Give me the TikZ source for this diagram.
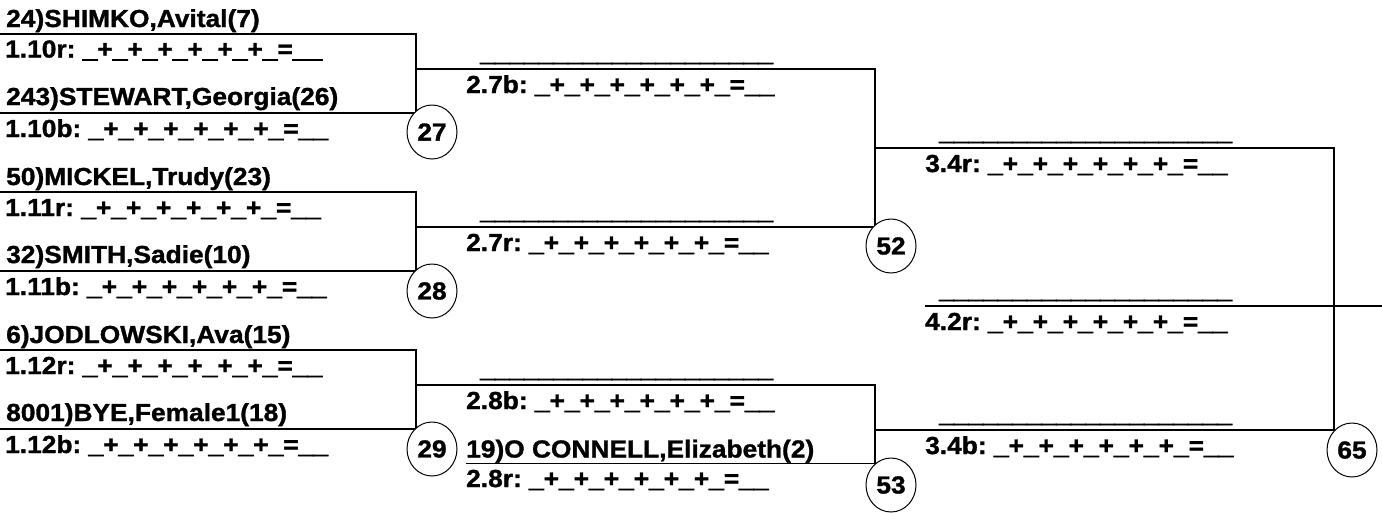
\documentclass[tikz,border=0pt]{standalone}
\usepackage{fontspec}
\setmainfont{Liberation Sans}[BoldFeatures={FakeBold=1.3,FakeStretch=1.07}]
\newfontfamily\usfont{Liberation Sans}[BoldFeatures={FakeBold=3.5,FakeStretch=1.07}]
\usetikzlibrary{shapes.geometric}
\newcommand\us{{\usfont\bfseries\_}}
\newcommand\scoreline{\us+\us+\us+\us+\us+\us+\us=\us\us}
\newcommand\blankname{\us\us\us\us\us\us\us\us\us\us\us\us\us\us\us\us\us\us\us\us}
\frenchspacing
\begin{document}
\begin{tikzpicture}[x=1pt,y=-1pt,
  txt/.style={anchor=base west, inner sep=0pt, font=\fontsize{24.6}{28}\selectfont\bfseries},
  seed/.style={draw, ellipse, fill=white, minimum width=50pt, minimum height=54pt, inner sep=0pt, line width=1pt, font=\fontsize{24.6}{28}\selectfont\bfseries},
  bline/.style={line width=1.3pt}]
\useasboundingbox (0,0) rectangle (1382,512);

% ---- round 1 texts
\node[txt] (n1)  at (6,27)  {24)SHIMKO,Avital(7)};
\node[txt] (s1)  at (5,57.5)  {1.10r: \scoreline};
\node[txt] (n2)  at (6,105) {243)STEWART,Georgia(26)};
\node[txt] (s2)  at (5,137) {1.10b: \scoreline};
\node[txt] (n3)  at (6,185) {50)MICKEL,Trudy(23)};
\node[txt] (s3)  at (5,216) {1.11r: \scoreline};
\node[txt] (n4)  at (6,263) {32)SMITH,Sadie(10)};
\node[txt] (s4)  at (5,295) {1.11b: \scoreline};
\node[txt] (n5)  at (6,343) {6)JODLOWSKI,Ava(15)};
\node[txt] (s5)  at (5,374) {1.12r: \scoreline};
\node[txt] (n6)  at (6,421) {8001)BYE,Female1(18)};
\node[txt] (s6)  at (5,453) {1.12b: \scoreline};

% ---- round 2 texts
\node[txt] (b1)  at (480,61)  {\blankname};
\node[txt] (s7)  at (466,93)  {2.7b: \scoreline};
\node[txt] (b2)  at (480,219) {\blankname};
\node[txt] (s8)  at (466,251) {2.7r: \scoreline};
\node[txt] (b3)  at (480,377) {\blankname};
\node[txt] (s9)  at (466,409) {2.8b: \scoreline};
\node[txt] (n7)  at (466,457.5) {19)O CONNELL,Elizabeth(2)};
\node[txt] (s10) at (466,487) {2.8r: \scoreline};

% ---- round 3 texts
\node[txt] (b4)  at (939,140) {\blankname};
\node[txt] (s11) at (925,172) {3.4r: \scoreline};
\node[txt] (b5)  at (939,298) {\blankname};
\node[txt] (s12) at (925,330) {4.2r: \scoreline};
\node[txt] (b6)  at (939,422) {\blankname};
\node[txt] (s13) at (925,454) {3.4b: \scoreline};

% ---- coordinates
\coordinate (a1) at (0,34);   \coordinate (a2) at (416,34);
\coordinate (a3) at (416,113); \coordinate (a4) at (0,113);
\coordinate (a5) at (0,192);  \coordinate (a6) at (416,192);
\coordinate (a7) at (416,271); \coordinate (a8) at (0,271);
\coordinate (a9) at (0,350);  \coordinate (a10) at (416,350);
\coordinate (a11) at (416,429); \coordinate (a12) at (0,429);
\coordinate (m1) at (416,69); \coordinate (m2) at (416,227); \coordinate (m3) at (416,385);
\coordinate (q1) at (875,69); \coordinate (q2) at (875,227);
\coordinate (q3) at (875,385); \coordinate (q4) at (875,463.5); \coordinate (q5) at (466,463.5);
\coordinate (p1) at (875,148); \coordinate (p2) at (1334,148);
\coordinate (p3) at (1334,430); \coordinate (p4) at (875,430);
\coordinate (f1) at (925,306); \coordinate (f2) at (1382,306);

% ---- bracket lines
\draw[bline] (a1) -- (a2) -- (a3) -- (a4);
\draw[bline] (a5) -- (a6) -- (a7) -- (a8);
\draw[bline] (a9) -- (a10) -- (a11) -- (a12);
\draw[bline] (m1) -- (q1) -- (q2) -- (m2);
\draw[bline] (m3) -- (q3) -- (q4) -- (q5);
\draw[bline] (p1) -- (p2) -- (p3) -- (p4);
\draw[bline] (f1) -- (f2);

% ---- bout numbers
\node[seed] (c27) at (432,132) {27};
\node[seed] (c28) at (432,291) {28};
\node[seed] (c29) at (432,449) {29};
\node[seed] (c52) at (891,246) {52};
\node[seed] (c53) at (891,485) {53};
\node[seed] (c65) at (1352,450) {65};
\end{tikzpicture}
\end{document}
